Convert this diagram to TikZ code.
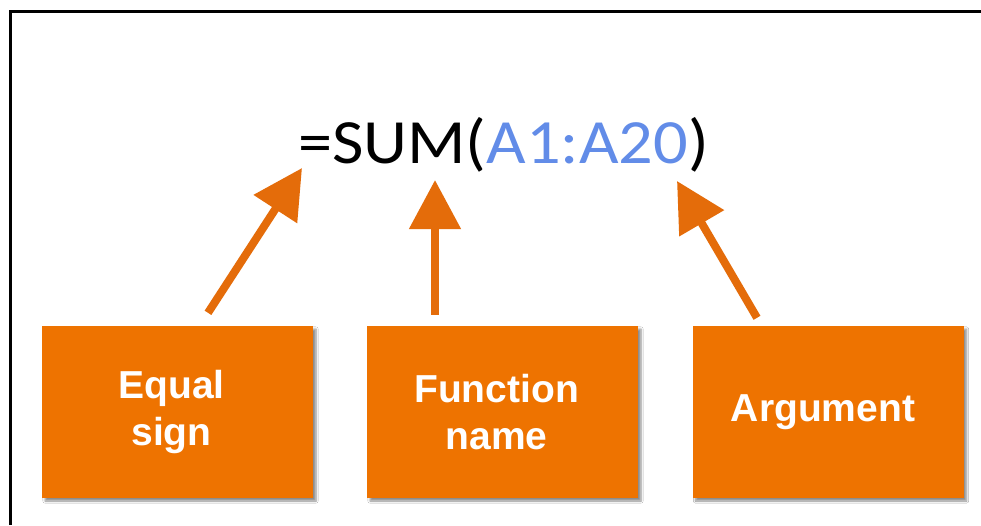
\documentclass[tikz,border=0pt]{standalone}
\usepackage{fontspec}
\usepackage{graphicx}
\usetikzlibrary{arrows.meta,shadows.blur}
\setmainfont{Liberation Sans}
\newfontfamily\formulafont{Carlito}
\definecolor{boxorange}{RGB}{238,115,0}
\definecolor{arrorange}{RGB}{228,108,10}
\definecolor{argblue}{RGB}{98,140,232}
\newcommand{\ls}{\hspace*{-12pt}}
\tikzset{
  labelbox/.style={fill=boxorange, draw=none, minimum width=271pt, minimum height=172pt,
    inner sep=0pt, align=center, text=white, font=\fontsize{39}{47}\selectfont\bfseries,
    blur shadow={shadow xshift=3pt, shadow yshift=-3pt, shadow blur steps=6, shadow opacity=45}},
  pointer/.style={draw=arrorange, line width=8pt,
    -{Triangle[width=50pt,length=49pt]}, arrorange},
  frameline/.style={line width=3pt, black}
}
\begin{document}
\begin{tikzpicture}[x=1pt,y=-1pt]
\useasboundingbox (0,0) rectangle (981,525);
\fill[white] (0,0) rectangle (981,525);
% frame
\coordinate (fbl) at (10,525);
\coordinate (ftl) at (10,11);
\coordinate (ftr) at (981,11);
\draw[frameline] (fbl) -- (ftl) -- (ftr);
% formula
\node[anchor=base west, inner sep=0pt, font=\formulafont\fontsize{63}{70}\selectfont] (formula) at (298,163)
  {\scalebox{1.085}[1]{=SUM(\textcolor{argblue}{A1:A20})}};
% boxes
\node[labelbox] (eqbox) at (177.5,412) {\ls Equal\\\ls sign};
\node[labelbox] (fnbox) at (502.5,412) {\ls Function\\\ls name};
\node[labelbox] (argbox) at (828,412) {\hspace*{-10pt}Argument};
% arrow tips
\coordinate (eqtip) at (302,168);
\coordinate (fntip) at (435,180);
\coordinate (argtip) at (677,181);
\draw[pointer] ([xshift=30.5pt,yshift=13pt]eqbox.north) -- (eqtip);
\draw[pointer] ([xshift=-67.5pt,yshift=11pt]fnbox.north) -- (fntip);
\draw[pointer] ([xshift=-71pt,yshift=8pt]argbox.north) -- (argtip);
\end{tikzpicture}
\end{document}
